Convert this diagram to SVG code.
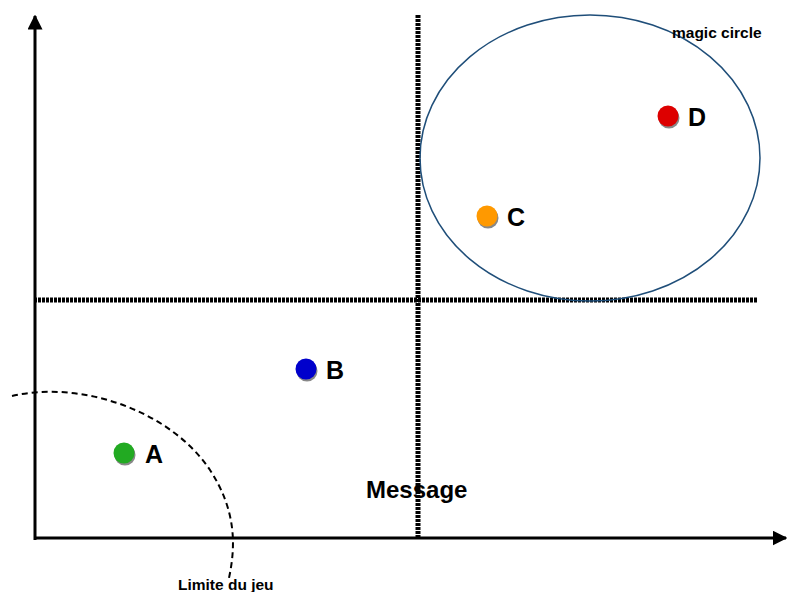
<svg xmlns="http://www.w3.org/2000/svg" width="787" height="592" viewBox="0 0 787 592">
<style>
.axis{stroke:#000;stroke-width:3;fill:none}
.dot{stroke:#000;stroke-width:5;stroke-dasharray:3 1;fill:none}
.lbl{font-family:"Liberation Sans",Arial,sans-serif;font-weight:bold;fill:#000}
.big{font-size:25px}
.small{font-size:15.5px}
.shadow{fill:#888}
</style>
<defs>
<marker id="arr" viewBox="0 0 10 10" refX="9" refY="5" markerWidth="5" markerHeight="5" orient="auto" markerUnits="strokeWidth">
<path d="M0,0 L10,5 L0,10 z" fill="#000"/>
</marker>
</defs>
<rect width="787" height="592" fill="#fff"/>
<g id="connectors">
<line class="axis" x1="35" y1="540" x2="35" y2="16" marker-end="url(#arr)"/>
<line class="axis" x1="34" y1="538" x2="786" y2="538" marker-end="url(#arr)"/>
<line class="dot" x1="418" y1="15" x2="418" y2="538"/>
<line class="dot" x1="34" y1="300" x2="757" y2="300"/>
<ellipse cx="590" cy="158" rx="170" ry="143" fill="none" stroke="#1f4e79" stroke-width="1.5"/>
<path d="M12,396 C80,380 170,410 210,470 C236,510 236,545 229,578" fill="none" stroke="#000" stroke-width="2" stroke-dasharray="6 4"/>
</g>
<g id="A">
<circle class="shadow" cx="125" cy="455" r="10.5"/>
<circle cx="124" cy="453" r="10.5" fill="#22aa22"/>
<text class="lbl big" x="145" y="463">A</text>
</g>
<g id="B">
<circle class="shadow" cx="307" cy="371" r="10.5"/>
<circle cx="306" cy="369" r="10.5" fill="#0000cc"/>
<text class="lbl big" x="326" y="379">B</text>
</g>
<g id="C">
<circle class="shadow" cx="488" cy="218" r="10.5"/>
<circle cx="487" cy="216" r="10.5" fill="#ff9900"/>
<text class="lbl big" x="507" y="226">C</text>
</g>
<g id="D">
<circle class="shadow" cx="669" cy="118" r="10.5"/>
<circle cx="668" cy="116" r="10.5" fill="#dd0000"/>
<text class="lbl big" x="688" y="126">D</text>
</g>
<g id="message">
<text class="lbl" x="366" y="498" font-size="24">Message</text>
</g>
<g id="magic">
<text class="lbl small" x="672" y="38">magic circle</text>
</g>
<g id="limite">
<text class="lbl small" x="178" y="590">Limite du jeu</text>
</g>
</svg>
